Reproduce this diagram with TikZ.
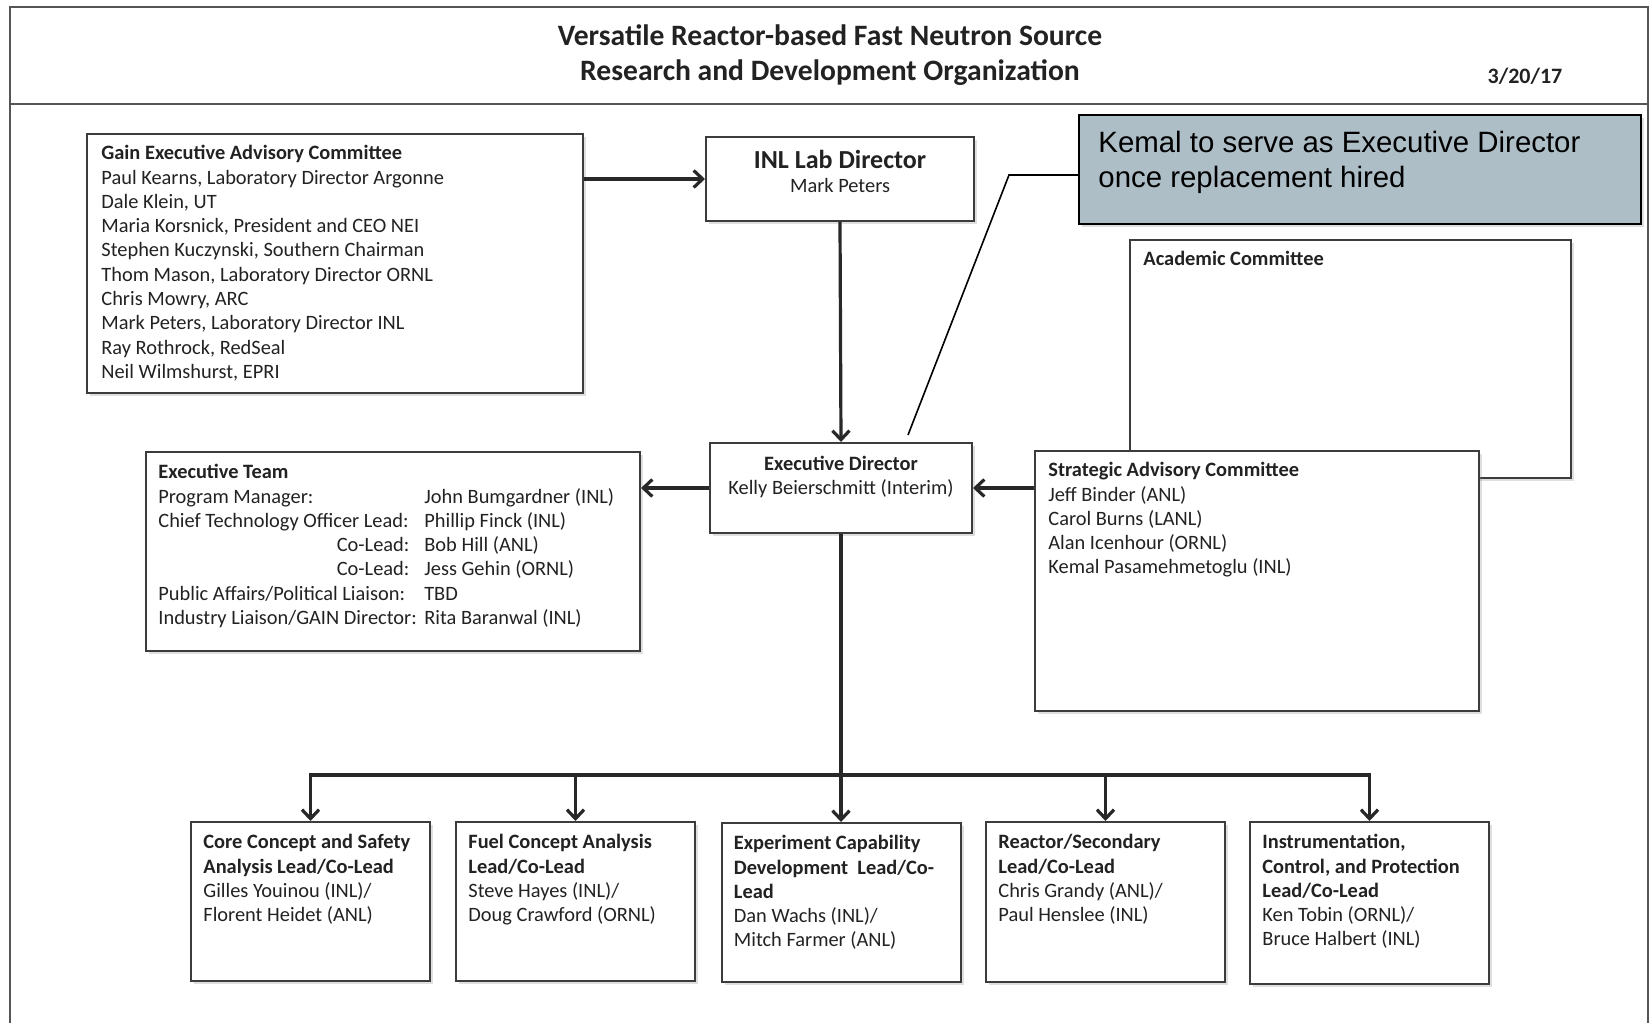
\documentclass[tikz,border=0pt]{standalone}
\usepackage{fontspec}
\setmainfont{Carlito}
\newfontfamily\notefont{Liberation Sans}
\usetikzlibrary{arrows.meta,shadows}

\definecolor{boxline}{RGB}{60,60,60}
\definecolor{linkline}{RGB}{40,40,40}
\definecolor{frameline}{RGB}{85,85,85}
\definecolor{notefill}{RGB}{174,190,199}
\definecolor{ink}{RGB}{34,34,34}

\newcommand{\bodyfont}{\fontsize{10.2}{12.15}\selectfont}
\newcommand{\duty}[1]{\makebox[133pt][l]{#1}}
\newcommand{\coduty}[1]{\makebox[133pt][r]{#1\hspace{7.5pt}}}

\tikzset{
  orgbox/.style={draw=boxline, line width=1pt, fill=white, anchor=north west, inner sep=0pt,
    drop shadow={shadow xshift=1.5pt, shadow yshift=-1.5pt, opacity=.25}},
  intext/.style={anchor=north west, inner sep=0pt, align=left, text=ink, font=\bodyfont,
    xshift=7pt, yshift=-6pt},
  midtext/.style={anchor=north, inner sep=0pt, align=center, text=ink, font=\bodyfont},
  link/.style={draw=linkline, line width=1.6pt},
  linkto/.style={link, -{Straight Barb[length=4.5pt,width=8.5pt]}},
}

\begin{document}
\begin{tikzpicture}[x=0.5pt,y=-0.5pt]

  \useasboundingbox (0,0) rectangle (1651,1023);

  % page frame and heading
  \draw[draw=frameline, line width=1pt] (9.5,1023) -- (9.5,7) -- (1648,7) -- (1648,1023);
  \draw[draw=frameline, line width=1pt] (9.5,104) -- (1648,104);
  \node[font=\fontsize{14.8}{17.4}\selectfont\bfseries, align=center, text=ink] (title) at (830,55)
    {Versatile Reactor-based Fast Neutron Source\\Research and Development Organization};
  \node[font=\fontsize{11}{13}\selectfont\bfseries, text=ink] (date) at (1525,76) {3/20/17};

  % boxes
  \node[orgbox, minimum width=248pt, minimum height=129.5pt] (gain) at (86,133) {};
  \node[intext, xshift=0.5pt] (gain_txt) at (gain.north west)
    {\textbf{Gain Executive Advisory Committee}\\
     Paul Kearns, Laboratory Director Argonne\\
     Dale Klein, UT\\
     Maria Korsnick, President and CEO NEI\\
     Stephen Kuczynski, Southern Chairman\\
     Thom Mason, Laboratory Director ORNL\\
     Chris Mowry, ARC\\
     Mark Peters, Laboratory Director INL\\
     Ray Rothrock, RedSeal\\
     Neil Wilmshurst, EPRI};

  \node[orgbox, minimum width=134pt, minimum height=42pt] (inl) at (705,136) {};
  \node[midtext, yshift=-6.8pt] (inl_txt) at (inl.north)
    {{\fontsize{13}{12}\selectfont\bfseries INL Lab Director}\\Mark Peters};

  \node[orgbox, fill=notefill, draw=black, minimum width=281pt, minimum height=54.5pt] (kemal) at (1078,114) {};
  \node[intext, font=\notefont\fontsize{14.7}{17.5}\selectfont, text=black, xshift=3pt, yshift=-2.3pt] (kemal_txt)
    at (kemal.north west) {Kemal to serve as Executive Director\\once replacement hired};

  \node[orgbox, minimum width=220.5pt, minimum height=119pt] (acad) at (1129,239) {};
  \node[intext] (acad_txt) at (acad.north west) {\textbf{Academic Committee}};

  \node[orgbox, minimum width=131pt, minimum height=45pt] (exec) at (709,442) {};
  \node[midtext, yshift=-6.8pt] (exec_txt) at (exec.north)
    {\textbf{Executive Director}\\Kelly Beierschmitt (Interim)};

  \node[orgbox, minimum width=222pt, minimum height=130pt] (strat) at (1034,450) {};
  \node[intext] (strat_txt) at (strat.north west)
    {\textbf{Strategic Advisory Committee}\\
     Jeff Binder (ANL)\\
     Carol Burns (LANL)\\
     Alan Icenhour (ORNL)\\
     Kemal Pasamehmetoglu (INL)};

  \node[orgbox, minimum width=247pt, minimum height=99.5pt] (team) at (145,451) {};
  \node[intext, xshift=-0.5pt, yshift=-0.5pt] (team_txt) at (team.north west)
    {\textbf{Executive Team}\\
     \duty{Program Manager:}John Bumgardner (INL)\\
     \duty{Chief Technology Officer Lead:}Phillip Finck (INL)\\
     \coduty{Co-Lead:}Bob Hill (ANL)\\
     \coduty{Co-Lead:}Jess Gehin (ORNL)\\
     \duty{Public Affairs/Political Liaison:}TBD\\
     \duty{Industry Liaison/GAIN Director:}Rita Baranwal (INL)};

  % leads
  \node[orgbox, minimum width=119.5pt, minimum height=79.5pt] (core) at (190,821) {};
  \node[intext, xshift=-0.5pt, yshift=-0.5pt] (core_txt) at (core.north west)
    {\textbf{Core Concept and Safety}\\\textbf{Analysis Lead/Co-Lead}\\
     Gilles Youinou (INL)/\\Florent Heidet (ANL)};

  \node[orgbox, minimum width=119.5pt, minimum height=79.5pt] (fuel) at (455,821) {};
  \node[intext, xshift=-0.5pt, yshift=-0.5pt] (fuel_txt) at (fuel.north west)
    {\textbf{Fuel Concept Analysis}\\\textbf{Lead/Co-Lead}\\
     Steve Hayes (INL)/\\Doug Crawford (ORNL)};

  \node[orgbox, minimum width=119.5pt, minimum height=79.5pt] (expt) at (720.5,822) {};
  \node[intext, xshift=-0.5pt, yshift=-0.5pt] (expt_txt) at (expt.north west)
    {\textbf{Experiment Capability}\\\textbf{Development\ \ Lead/Co-}\\\textbf{Lead}\\
     Dan Wachs (INL)/\\Mitch Farmer (ANL)};

  \node[orgbox, minimum width=119.5pt, minimum height=80pt] (react) at (985,821) {};
  \node[intext, xshift=-0.5pt, yshift=-0.5pt] (react_txt) at (react.north west)
    {\textbf{Reactor/Secondary}\\\textbf{Lead/Co-Lead}\\
     Chris Grandy (ANL)/\\Paul Henslee (INL)};

  \node[orgbox, minimum width=119.5pt, minimum height=81pt] (instr) at (1249,821) {};
  \node[intext, xshift=-0.5pt, yshift=-0.5pt] (instr_txt) at (instr.north west)
    {\textbf{Instrumentation,}\\\textbf{Control, and Protection}\\\textbf{Lead/Co-Lead}\\
     Ken Tobin (ORNL)/\\Bruce Halbert (INL)};

  % callout
  \coordinate (kink) at (1009,175);
  \coordinate (pointer) at (908,435);
  \draw[line width=0.8pt] (kink -| kemal.west) -- (kink) -- (pointer);

  % connectors
  \coordinate (bus) at (840,775);
  \draw[linkto] (gain.east |- inl.west) -- (inl.west);
  \draw[linkto] (inl.south) -- (exec.north);
  \draw[linkto] (exec.west) -- (exec.west -| team.east);
  \draw[linkto] (strat.west |- exec.east) -- (exec.east);
  \draw[linkto] (exec.south) -- (expt.north);
  \draw[linkto] (bus) -- (core.north |- bus) -- (core.north);
  \draw[linkto] (bus) -- (instr.north |- bus) -- (instr.north);
  \draw[linkto] (fuel.north |- bus) -- (fuel.north);
  \draw[linkto] (react.north |- bus) -- (react.north);

\end{tikzpicture}
\end{document}
